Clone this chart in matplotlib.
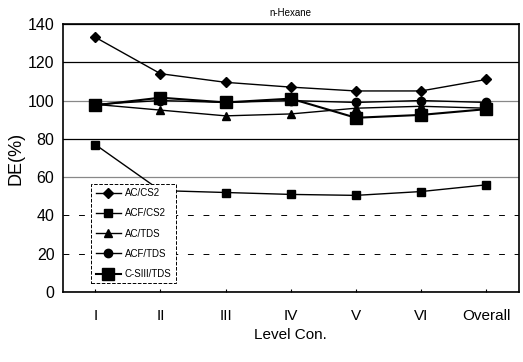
import matplotlib.pyplot as plt

levels = ["I", "II", "III", "IV", "V", "VI", "Overall"]

ac_cs2 = [133, 114, 109.5, 107, 105, 105, 111]
acf_cs2 = [77, 53, 52, 51, 50.5, 52.5, 56]
ac_tds = [98, 95, 92, 93, 96, 97, 96]
acf_tds = [98, 100, 99, 100, 99, 100, 99]
csiii_tds = [97.5, 101.5, 99, 101, 91, 92.5, 95.5]

plt.rcParams["font.family"] = ["Liberation Sans", "DejaVu Sans"]

fig = plt.figure(figsize=(5.23, 3.62), dpi=100)
ax = fig.add_axes([0.12, 0.193, 0.872, 0.741])

x = range(len(levels))
ax.plot(x, ac_cs2, color="black", lw=1, marker="D", ms=5, label="AC/CS2")
ax.plot(x, acf_cs2, color="black", lw=1, marker="s", ms=6, label="ACF/CS2")
ax.plot(x, ac_tds, color="black", lw=1, marker="^", ms=6, label="AC/TDS")
ax.plot(x, acf_tds, color="black", lw=1, marker="o", ms=6, label="ACF/TDS")
ax.plot(x, csiii_tds, color="black", lw=1.5, marker="s", ms=9, label="C-SIII/TDS")

ax.set_xlim(-0.5, len(levels) - 0.5)
ax.set_ylim(0, 140)
ax.set_yticks(range(0, 141, 20))
ax.set_xticks(list(x))
ax.set_xticklabels(levels, fontsize=11)
ax.tick_params(axis="y", labelsize=11.5, length=0, pad=6)
ax.tick_params(axis="x", direction="in", length=2, pad=12)

ax.grid(axis="y", color="black", lw=0.9)
for val, gl in zip(ax.get_yticks(), ax.yaxis.get_gridlines()):
    if val in (100, 60):
        gl.set_color("#888888")
    elif val in (20, 40):
        gl.set_linestyle((0, (6, 10)))
        gl.set_linewidth(0.7)
ax.set_axisbelow(True)

for s in ax.spines.values():
    s.set_linewidth(1.2)

ax.set_title("n-Hexane", fontsize=7, pad=6)
ax.set_xlabel("Level Con.", fontsize=11)
ax.set_ylabel("DE(%)", fontsize=13, labelpad=2)

leg = ax.legend(loc="lower left", bbox_to_anchor=(0.058, 0.025), fontsize=7,
                handlelength=2.6, handletextpad=0.4, labelspacing=1.05,
                borderpad=0.45, borderaxespad=0.2,
                fancybox=False, framealpha=1, edgecolor="black")
leg.get_frame().set_linewidth(0.7)
leg.get_frame().set_linestyle("--")

fig.savefig("out.png", dpi=100)
